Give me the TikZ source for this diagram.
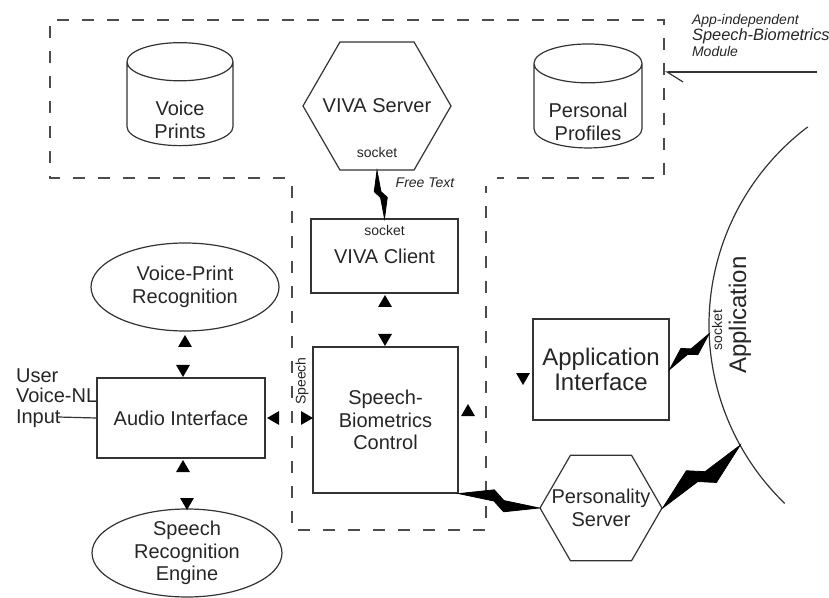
\documentclass[tikz,border=0pt]{standalone}
\usepackage{fontspec}
\setmainfont{Liberation Sans}
\usepackage{tikz}
\usetikzlibrary{positioning}
\usetikzlibrary{shapes.geometric}
\usetikzlibrary{arrows.meta}
\usetikzlibrary{calc}

\newcommand{\normsize}{\fontsize{10pt}{11.25pt}\selectfont}
\newcommand{\bigsize}{\fontsize{12pt}{12.5pt}\selectfont}
\newcommand{\tinysize}{\fontsize{7pt}{8pt}\selectfont}

\begin{document}
\begin{tikzpicture}
        [x=0.5pt, y=-0.5pt,
         every node/.style={font=\normsize, text=black!85},
         every label/.style={font=\normsize, text=black!85, align=center},
         line/.style={draw=black!80, line width=0.6pt},
         box/.style={line, rectangle, align=center, inner sep=0pt},
         db/.style={line, cylinder, shape border rotate=90, aspect=0.36, inner sep=0pt,
                    label={[yshift=-8pt]center:#1}},
         hex/.style={line, regular polygon, regular polygon sides=6, inner sep=0pt},
         oval/.style={line, ellipse, align=center, inner sep=-2pt},
         tip/.style={fill=black, regular polygon, regular polygon sides=3, minimum size=8pt, inner sep=0pt},
         module/.style={draw=black!70, line width=1.3pt, dash pattern=on 6pt off 6.5pt},
         bolt/.style={to path={
           -- ($(\tikztostart)!.42!(\tikztotarget)!#1!90:(\tikztotarget)$)
           -- ($(\tikztostart)!.60!(\tikztotarget)!{-.15*(#1)}!90:(\tikztotarget)$)
           -- cycle
           (\tikztotarget)
           -- ($(\tikztostart)!.58!(\tikztotarget)!{-1*(#1)}!90:(\tikztotarget)$)
           -- ($(\tikztostart)!.40!(\tikztotarget)!{.15*(#1)}!90:(\tikztotarget)$)
           -- cycle}},
         bolt/.default=4pt]
      \useasboundingbox (0,0) rectangle (829,598);

      % speech-biometrics module
      \draw[module] (285,178) -- (50,178) -- (50,20) -- (664,20) -- (664,178) -- (497,178);
      \draw[module] (292,186) -- (292,530) -- (486,530) -- (486,186);
      \node[font=\tinysize\itshape, align=left, anchor=north west] (modlabel) at (685,7)
           {App-independent\\{\fontsize{8.2pt}{9pt}\selectfont Speech-Biometrics}\\Module};
      \coordinate (modtail) at (817,72);
      \coordinate (modhead) at (665,72);
      \draw[line, -{Straight Barb[harpoon, length=8pt, width=10pt]}] (modtail) -- (modhead);

      % stores and server
      \node[db={Voice\\Prints}, minimum width=53pt, minimum height=51.5pt] (vp) at (180,104) {\hspace*{53pt}};
      \node[db={Personal\\Profiles}, minimum width=54pt, minimum height=52pt] (pp) at (588,106) {\hspace*{54pt}};
      \node[hex, minimum size=74pt, label=center:VIVA Server] (vs) at (377,106) {};
      \node[font=\tinysize] (vssock) [above=3pt of vs.south] {socket};

      % control column
      \node[box, minimum width=73.5pt, minimum height=37pt] (vc) at (384.5,256) {VIVA Client};
      \node[font=\tinysize] (vcsock) [below=0pt of vc.north] {socket};
      \node[font=\tinysize\itshape] (free) at (425,183) {Free Text};
      \node[box, minimum width=72.5pt, minimum height=73pt] (sbc) at (385.5,420) {Speech-\\Biometrics\\Control};

      % audio side
      \node[oval, minimum width=94pt, minimum height=44pt] (vpr) at (185,287) {Voice-Print\\Recognition};
      \node[box, minimum width=84pt, minimum height=40pt] (ai) at (181,418) {Audio Interface};
      \node[oval, minimum width=95pt, minimum height=44pt] (sre) at (187,553) {Speech\\Recognition\\Engine};
      \node[align=left, anchor=west, font=\fontsize{10pt}{10.25pt}\selectfont] (user) at (9,398) {User\\Voice-NL\\Input};
      \coordinate (userin) at (58,417);
      \draw[line] (userin) -- (ai.west);
      \node[font=\tinysize, rotate=90] (speech) at (302,381) {Speech};

      % application side
      \node[box, minimum width=68pt, minimum height=50.5pt, font=\bigsize] (api) at (601,369.5) {Application\\Interface};
      \node[hex, minimum size=61pt, label={center:Personality\\Server}] (ps) at (601,508) {};
      \coordinate (appc) at (957,325);
      \draw[line] ([shift={(127:124pt)}]appc) arc[start angle=127, end angle=226, radius=124pt];
      \coordinate (appA) at ([shift={(182:124pt)}]appc);
      \coordinate (appB) at ([shift={(209:124pt)}]appc);
      \node[font=\bigsize, rotate=90] (app) at (740,315) {Application};
      \node[font=\tinysize, rotate=90] (appsock) at (717,330) {socket};

      % arrow heads
      \node[tip] (vprUp) at (185,343) {};
      \node[tip, rotate=180] (vprDn) at (183,369) {};
      \node[tip] (sreUp) at (183,468) {};
      \node[tip, rotate=180] (sreDn) at (187,502) {};
      \node[tip, rotate=90] (aiLt) at (275,418) {};
      \node[tip, rotate=-90] (sbcRt) at (305,418) {};
      \node[tip] (vcUp) at (385,303) {};
      \node[tip, rotate=180] (vcDn) at (385,338) {};
      \node[tip] (sbcUp) at (468,412) {};
      \node[tip, rotate=180] (apiDn) at (523,377) {};

      % socket links
      \filldraw[line width=0.4pt] (vs.south) to[bolt=-3pt] (vc.north);
      \filldraw[line width=0.4pt] (sbc.south east) to[bolt=5pt] (ps.west);
      \filldraw[line width=0.4pt] (ps.east) to[bolt=7pt] (appB);
      \filldraw[line width=0.4pt] (api.east) to[bolt=4pt] (appA);
      \end{tikzpicture}
\end{document}
